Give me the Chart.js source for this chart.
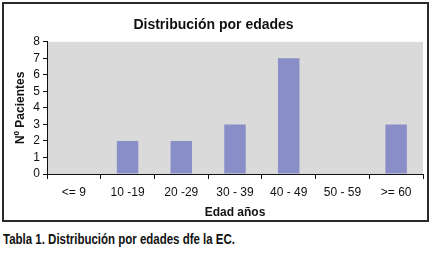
<!DOCTYPE html>
<html><head><meta charset="utf-8">
<script src="https://cdn.jsdelivr.net/npm/chart.js@4"></script>
<style>
html,body{margin:0;padding:0;background:#fff;width:437px;height:253px;overflow:hidden}
#box{position:absolute;left:2px;top:2px;width:423px;height:216px;border:2px solid #2a2a2a}
#cap{position:absolute;left:3px;top:231px;font-family:"Liberation Sans Narrow",Arial,"Liberation Sans",sans-serif;font-weight:bold;font-size:14px;color:#111;transform-origin:0 0;transform:scaleX(0.82);white-space:nowrap}
</style></head><body>
<div id="box"><canvas id="c" width="423" height="216"></canvas></div>
<div id="cap">Tabla 1. Distribución por edades dfe la EC.</div>
<script>
const categories = ["<= 9","10 -19","20 -29","30 - 39","40 - 49","50 - 59",">= 60"];
const pacientes = [0,2,2,3,7,0,3];
const yTicks = [0,1,2,3,4,5,6,7,8];

const FAM = "Arial, 'Liberation Sans', sans-serif";

const bgPlugin = {
  id:'bg',
  beforeDraw(chart){
    const {ctx, chartArea:a} = chart;
    ctx.save();
    ctx.fillStyle = '#dadada';
    ctx.fillRect(a.left, a.top, a.right-a.left, a.bottom-a.top);
    ctx.restore();
  }
};

new Chart(document.getElementById('c'), {
  type:'bar',
  data:{labels:categories, datasets:[{data:pacientes, backgroundColor:'#8a8ec8', barPercentage:0.4, categoryPercentage:1}]},
  options:{
    responsive:false, animation:false,
    layout:{padding:{left:0,right:4,top:0,bottom:0}},
    plugins:{
      legend:{display:false}, tooltip:{enabled:false},
      title:{display:true, text:'Distribución por edades', color:'#111',
        font:{family:FAM, size:14, weight:'bold'}, padding:{top:13,bottom:8}}
    },
    scales:{
      x:{
        grid:{drawOnChartArea:false, drawTicks:true, tickLength:5, color:'#111', offset:true},
        border:{color:'#111', width:1},
        ticks:{color:'#111', font:{family:FAM, size:12}, padding:6, maxRotation:0, autoSkip:false},
        title:{display:true, text:'Edad años', color:'#111', font:{family:FAM, size:12, weight:'bold'}, padding:{top:2,bottom:0}},
        afterFit(s){ s.height = 46; }
      },
      y:{
        min:0, max:8,
        afterBuildTicks(s){ s.ticks = yTicks.map(v=>({value:v})); },
        grid:{drawOnChartArea:false, drawTicks:true, tickLength:4, color:'#111'},
        border:{color:'#111', width:1},
        ticks:{color:'#111', font:{family:FAM, size:12}, padding:3, autoSkip:false},
        title:{display:true, text:'Nº Pacientes', color:'#111', font:{family:FAM, size:12, weight:'bold'}, padding:{top:9,bottom:4}},
        afterFit(s){ s.width = 43; }
      }
    }
  },
  plugins:[bgPlugin]
});
</script>
</body></html>
